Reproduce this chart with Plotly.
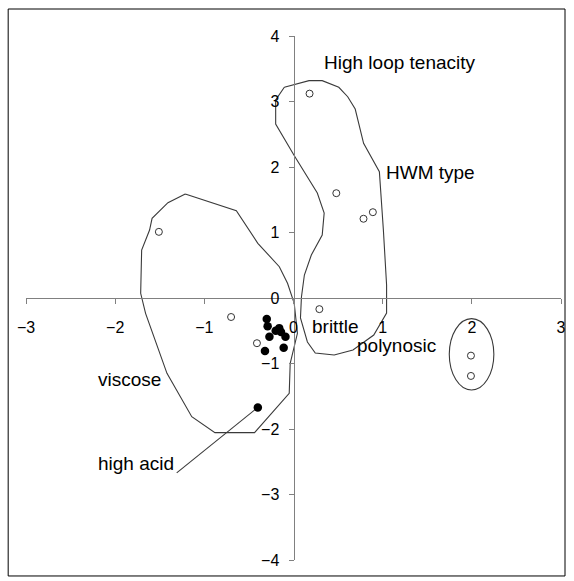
import plotly.graph_objects as go

# Open-circle samples
open_x = [0.18, 0.48, 0.785, 0.89, -1.51, -0.70, -0.41, 0.29, 1.99, 1.99]
open_y = [3.12, 1.60, 1.21, 1.31, 1.01, -0.29, -0.69, -0.17, -0.88, -1.19]

# Filled samples
filled_x = [-0.30, -0.29, -0.16, -0.27, -0.14, -0.09, -0.32, -0.11, -0.20, -0.40]
filled_y = [-0.32, -0.43, -0.46, -0.59, -0.52, -0.59, -0.81, -0.76, -0.50, -1.67]

# Group outlines
hwm_x = [-0.103, 0.174, 0.322, 0.508, 0.608, 0.692, 0.786, 0.963, 1.008, 1.044, 1.044,
         0.9, 0.667, 0.456, 0.244, 0.156, 0.078, 0.089, 0.122, 0.2, 0.322, 0.344,
         0.267, 0.011, -0.2, -0.2, -0.103]
hwm_y = [3.217, 3.318, 3.318, 3.217, 3.073, 2.885, 2.362, 1.928, 1.038, 0.198, -0.229,
         -0.565, -0.794, -0.870, -0.840, -0.672, -0.305, 0.015, 0.351, 0.656, 0.962, 1.298,
         1.603, 2.168, 2.656, 3.023, 3.217]

visc_x = [-1.214, -1.408, -1.586, -1.614, -1.703, -1.714, -1.659, -1.419, -1.141, -0.881,
          -0.437, -0.048, -0.037, 0.044, 0.008, -0.067, -0.159, -0.4, -0.641, -1.214]
visc_y = [1.588, 1.455, 1.217, 1.038, 0.733, 0.072, -0.234, -1.150, -1.812, -2.056,
          -2.056, -1.455, -0.997, -0.539, -0.081, 0.224, 0.478, 0.835, 1.333, 1.588]

poly_center = (1.997, -0.86)
poly_radius = (0.25, 0.545)

leader_x = [-0.40, -1.31]
leader_y = [-1.67, -2.67]

labels = ["High loop tenacity", "HWM type", "brittle", "polynosic", "viscose", "high acid"]
label_x = [0.32, 1.02, 0.19, 0.69, -2.22, -2.21]
label_y = [3.60, 1.91, -0.44, -0.72, -1.24, -2.52]

x_ticks = [-3, -2, -1, 0, 1, 2, 3]
y_ticks = [-4, -3, -2, -1, 0, 1, 2, 3, 4]

FONT = "Liberation Sans, Arial, sans-serif"
OUTLINE = "#3a3a3a"


def tick_text(v):
    return ("\u2212" + str(-v)) if v < 0 else str(v)


fig = go.Figure()
fig.add_trace(go.Scatter(x=hwm_x, y=hwm_y, mode="lines",
                         line=dict(color=OUTLINE, width=1.1), hoverinfo="skip"))
fig.add_trace(go.Scatter(x=visc_x, y=visc_y, mode="lines",
                         line=dict(color=OUTLINE, width=1.1), hoverinfo="skip"))
fig.add_trace(go.Scatter(x=leader_x, y=leader_y, mode="lines",
                         line=dict(color=OUTLINE, width=1.1), hoverinfo="skip"))
fig.add_trace(go.Scatter(x=open_x, y=open_y, mode="markers",
                         marker=dict(symbol="circle", size=7, color="white",
                                     line=dict(color="#333333", width=1))))
fig.add_trace(go.Scatter(x=filled_x, y=filled_y, mode="markers",
                         marker=dict(symbol="circle", size=8.5, color="black",
                                     line=dict(color="black", width=0))))

cx, cy = poly_center
rx, ry = poly_radius
fig.add_shape(type="circle", xref="x", yref="y", x0=cx - rx, x1=cx + rx,
              y0=cy - ry, y1=cy + ry, line=dict(color=OUTLINE, width=1.1))

for t, lx, ly in zip(labels, label_x, label_y):
    fig.add_annotation(x=lx, y=ly, xref="x", yref="y", text=t, showarrow=False,
                       xanchor="left", yanchor="middle",
                       font=dict(family=FONT, size=19, color="black"))

# outer frame
fig.add_shape(type="rect", xref="paper", yref="paper",
              x0=-0.0333, x1=1.0075, y0=-0.0305, y1=1.0515,
              line=dict(color="black", width=1))

axis_common = dict(showgrid=False, zeroline=False, showline=True, linecolor="#808080",
                   linewidth=1, ticks="outside", ticklen=5, tickcolor="#808080",
                   tickwidth=1, anchor="free", position=0.5,
                   tickfont=dict(family=FONT, size=16, color="black"))

fig.update_layout(
    width=574, height=581,
    margin=dict(l=26, r=8, t=36, b=21),
    paper_bgcolor="white", plot_bgcolor="white",
    showlegend=False,
    xaxis=dict(range=[-3, 3], tickvals=x_ticks, ticktext=[tick_text(v) for v in x_ticks],
               ticklabelstandoff=10, **axis_common),
    yaxis=dict(range=[-4, 4], tickvals=y_ticks, ticktext=[tick_text(v) for v in y_ticks],
               ticklabelstandoff=6, **axis_common),
)

fig.write_html("out.html")
